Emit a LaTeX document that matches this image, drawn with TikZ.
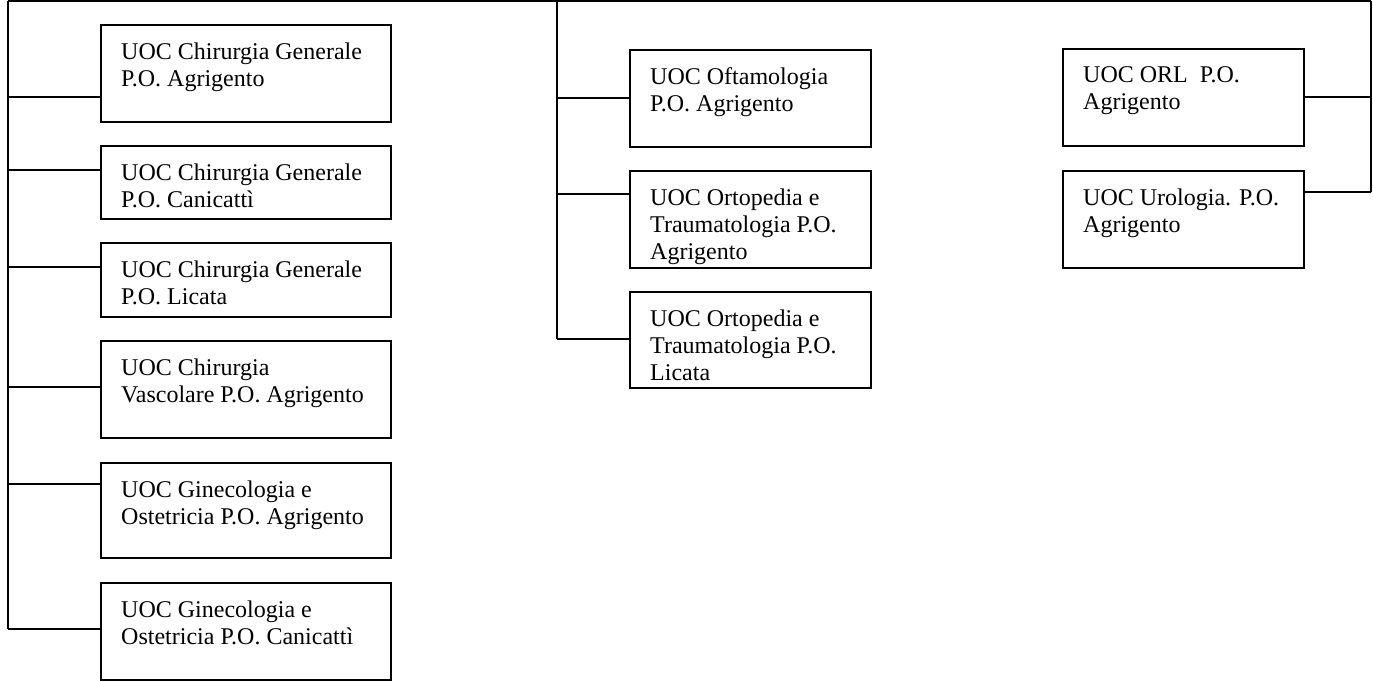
\documentclass[tikz,border=0pt]{standalone}
\usepackage{fontspec}
\setmainfont{Liberation Serif}
\tikzset{
  unitbox/.style={draw=black, line width=2pt, rectangle, inner sep=0pt, anchor=north west},
  unittext/.style={anchor=north west, inner sep=0pt, align=left, font=\fontsize{24}{27}\selectfont},
  trunk/.style={draw=black, line width=1.8pt},
  link/.style={draw=black, line width=2pt}
}
\newcommand\ubox[6]{%
  \node[unitbox, minimum width=#4pt, minimum height=#5pt] (#1) at (#2,#3) {};
  \node[unittext] (#1t) at ([xshift=21pt,yshift=-18.5pt]#1.north west) {#6};
}
\begin{document}
\begin{tikzpicture}[x=1pt, y=-1pt]
\useasboundingbox (0,0) rectangle (1373,681);
% left column
\ubox{L1}{100}{24}{290}{97}{UOC Chirurgia Generale\\P.O. Agrigento}
\ubox{L2}{100}{145}{290}{73}{UOC Chirurgia Generale\\P.O. Canicattì}
\ubox{L3}{100}{242}{290}{74}{UOC Chirurgia Generale\\P.O. Licata}
\ubox{L4}{100}{340}{290}{97}{UOC Chirurgia\\Vascolare P.O. Agrigento}
\ubox{L5}{100}{462}{290}{95}{UOC Ginecologia e\\Ostetricia P.O. Agrigento}
\ubox{L6}{100}{582}{290}{97}{UOC Ginecologia e\\Ostetricia P.O. Canicattì}
% middle column
\ubox{M1}{629}{49}{241}{97}{UOC Oftamologia\\P.O. Agrigento}
\ubox{M2}{629}{170}{241}{97}{UOC Ortopedia e\\Traumatologia P.O.\\Agrigento}
\ubox{M3}{629}{291}{241}{96}{UOC Ortopedia e\\Traumatologia P.O.\\Licata}
% right column
\ubox{R1}{1062}{48}{241}{97}{UOC ORL\ \ P.O.\\Agrigento}
\ubox{R2}{1062}{170}{241}{97}{UOC Urologia. P.O.\\Agrigento}
% trunks
\coordinate (topL) at (8,1);
\coordinate (topM) at (557,1);
\coordinate (topR) at (1371,1);
\coordinate (jL1) at (8,97);
\coordinate (jL2) at (8,170);
\coordinate (jL3) at (8,267);
\coordinate (jL4) at (8,387);
\coordinate (jL5) at (8,484);
\coordinate (jL6) at (8,629);
\coordinate (jM1) at (557,98);
\coordinate (jM2) at (557,194);
\coordinate (jM3) at (557,339);
\coordinate (jR1) at (1371,97);
\coordinate (jR2) at (1371,192);
\draw[trunk] (topL) -- (topR);
\draw[trunk] (topL) -- (jL6);
\draw[trunk] (topM) -- (jM3);
\draw[trunk, line width=1.2pt] (topR) -- (jR2);
% links
\foreach \n in {L1,L2,L3,L4,L5,L6,M1,M2,M3}{
  \draw[link] (j\n) -- (j\n -| \n.west);
}
\foreach \n in {R1,R2}{
  \draw[link] (j\n) -- (j\n -| \n.east);
}
\end{tikzpicture}
\end{document}
